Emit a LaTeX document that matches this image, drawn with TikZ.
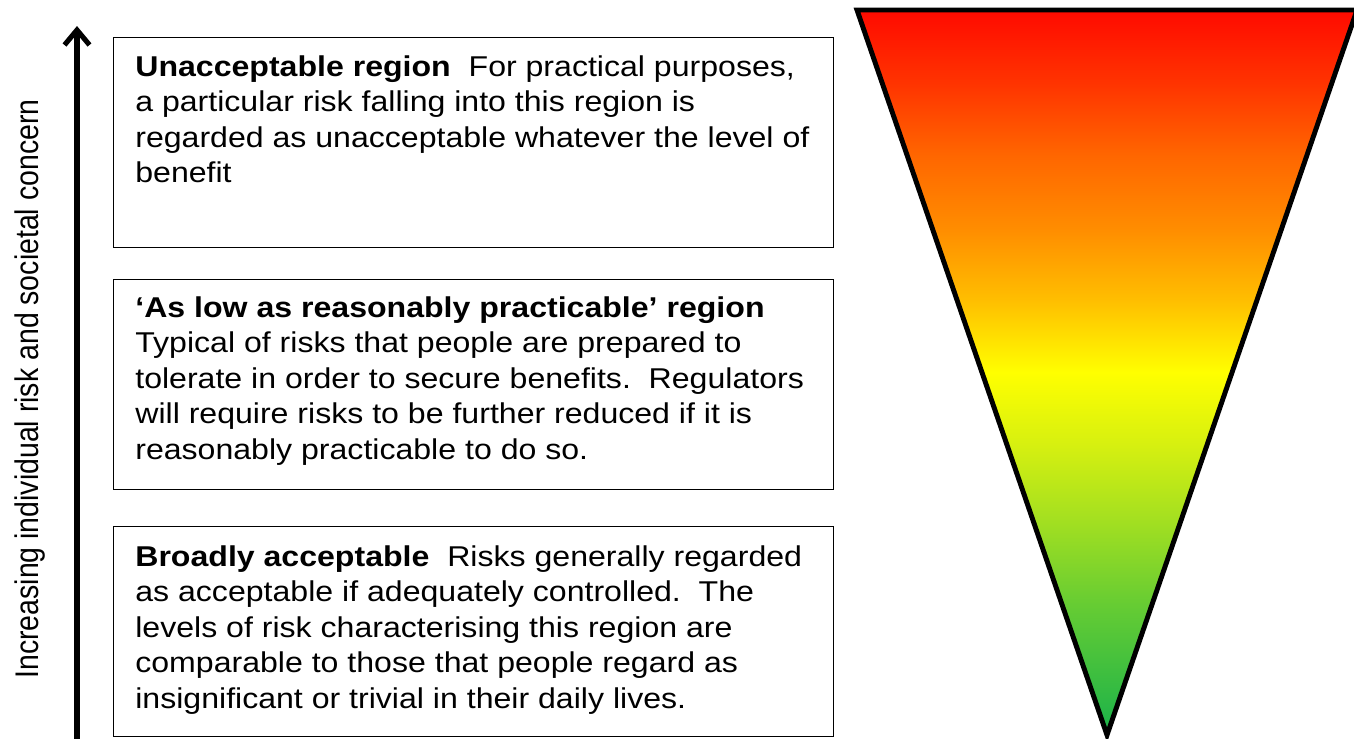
\documentclass[tikz,border=0pt]{standalone}
\usepackage{fontspec}
\setmainfont{Liberation Sans}
\newfontfamily\widefont{Liberation Sans}[FakeStretch=1.12]
\usetikzlibrary{arrows.meta}

\definecolor{riskred}{RGB}{255,10,0}
\definecolor{riskredorange}{RGB}{255,51,0}
\definecolor{riskorange}{RGB}{255,102,0}
\definecolor{riskamber}{RGB}{255,140,0}
\definecolor{riskgold}{RGB}{255,190,0}
\definecolor{riskyellow}{RGB}{255,255,0}
\definecolor{risklime}{RGB}{214,240,16}
\definecolor{risklightgreen}{RGB}{165,224,32}
\definecolor{riskmidgreen}{RGB}{102,204,51}
\definecolor{riskgreen}{RGB}{26,178,74}

\pgfdeclareverticalshading{riskshade}{100bp}{%
  color(0bp)=(riskgreen); color(25bp)=(riskgreen);
  color(34bp)=(riskmidgreen); color(40bp)=(risklightgreen);
  color(45bp)=(risklime); color(50bp)=(riskyellow);
  color(55bp)=(riskgold); color(60bp)=(riskamber);
  color(65bp)=(riskorange); color(70bp)=(riskredorange);
  color(75bp)=(riskred); color(100bp)=(riskred)}

\begin{document}
\begin{tikzpicture}[x=0.02cm, y=-0.02cm,
  region/.style={draw, line width=0.8pt, minimum width=14.4cm, minimum height=4.2cm, anchor=north west, inner sep=0},
  regiontext/.style={anchor=north west, align=left, inner sep=0, font=\widefont\fontsize{16.3}{20.2}\selectfont},
  axisarrow/.style={line width=2.9pt, -{Straight Barb[length=0.3cm, width=0.5cm]}}]

  \useasboundingbox (0,0) rectangle (1354,738);

  % Boxes
  \node[region] (R1) at (113,37) {};
  \node[region] (R2) at (113,279) {};
  \node[region] (R3) at (113,526) {};

  % Box texts
  \node[regiontext] (T1) at (135,55) {\textbf{Unacceptable region}~~For practical purposes,\\
    a particular risk falling into this region is\\
    regarded as unacceptable whatever the level of\\
    benefit};
  \node[regiontext] (T2) at (135,296) {\textbf{‘As low as reasonably practicable’ region}\\
    Typical of risks that people are prepared to\\
    tolerate in order to secure benefits.~~Regulators\\
    will require risks to be further reduced if it is\\
    reasonably practicable to do so.};
  \node[regiontext] (T3) at (135,545) {\textbf{Broadly acceptable}~~Risks generally regarded\\
    as acceptable if adequately controlled.~~The\\
    levels of risk characterising this region are\\
    comparable to those that people regard as\\
    insignificant or trivial in their daily lives.};

  % Axis
  \coordinate (foot) at (77,760);
  \coordinate (head) at (77,26);
  \draw[axisarrow] (foot) -- (head);
  \node[rotate=90, anchor=base, inner sep=0, font=\fontsize{16.2}{19}\selectfont] (axislabel) at (38,389)
    {\scalebox{1}[1.15]{Increasing individual risk and societal concern}};

  % Triangle
  \coordinate (topleft) at (857,10);
  \coordinate (topright) at (1357,10);
  \coordinate (apex) at (1107,735);
  \shadedraw[shading=riskshade, line width=2.8pt, line join=miter] (topleft) -- (topright) -- (apex) -- cycle;

\end{tikzpicture}
\end{document}
